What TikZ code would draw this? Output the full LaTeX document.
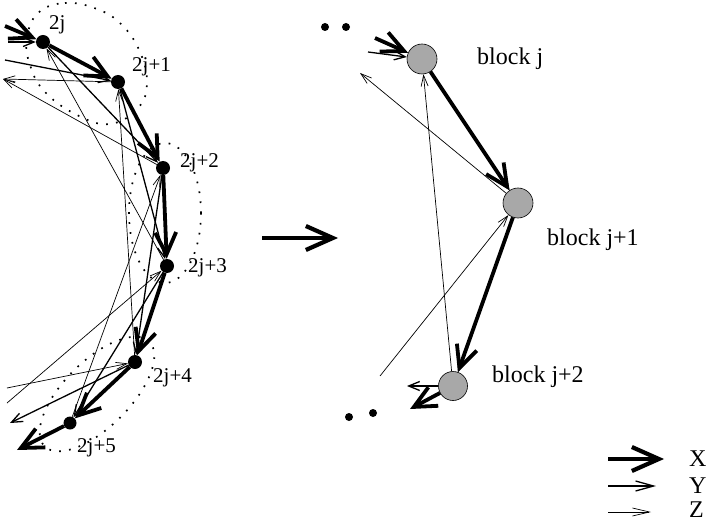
\documentclass[tikz,border=0pt]{standalone}
\usepackage{fontspec}
\setmainfont{Liberation Serif}
\usetikzlibrary{arrows.meta}
\begin{document}
\begin{tikzpicture}[x=1pt,y=-1pt,
  Xa/.style={line width=3.8pt,-{Straight Barb[length=22pt,width=21pt]}},
  Xl/.style={line width=4.2pt,-{Straight Barb[length=27pt,width=24pt]}},
  Ya/.style={line width=1.3pt,-{Straight Barb[length=11pt,width=9pt]}},
  Za/.style={line width=0.7pt,-{Straight Barb[length=11pt,width=7pt]}},
  bdot/.style={circle,fill=black,inner sep=0pt,minimum size=14pt},
  gnode/.style={circle,draw=black,line width=0.6pt,fill={rgb,255:red,168;green,168;blue,168},inner sep=0pt,minimum size=30pt},
  sdot/.style={circle,fill=black,inner sep=0pt,minimum size=8pt},
  lab/.style={font=\fontsize{21}{25}\selectfont,inner sep=0pt,anchor=base west},
  blab/.style={font=\fontsize{24}{28}\selectfont,inner sep=0pt,anchor=base west},
  grp/.style={line width=1.7pt,dash pattern=on 1.7pt off 8.3pt}]
\useasboundingbox (0,0) rectangle (708,521);

% ---- group outlines (dotted)
\draw[grp] plot[smooth cycle,tension=0.7] coordinates {(38,13) (65,3) (97,9) (122,25) (140,52) (147,83) (138,108) (110,124) (77,115) (45,92) (30,65) (27,38)};
\draw[grp] (165,213) ellipse [x radius=36pt, y radius=70pt];
\draw[grp,rotate around={45:(97,394)}] (97,394) ellipse [x radius=74pt, y radius=33pt];

% ---- left nodes
\node[bdot] (a0) at (43,42) {};
\node[bdot] (a1) at (118,82) {};
\node[bdot] (a2) at (163,168) {};
\node[bdot] (a3) at (167,266) {};
\node[bdot] (a4) at (135,362) {};
\node[bdot,minimum size=13pt] (a5) at (70,423) {};

\node[lab] (l0) at (49,30) {2j};
\node[lab] (l1) at (132,72) {2j+1};
\node[lab] (l2) at (180,168) {2j+2};
\node[lab] (l3) at (188,272) {2j+3};
\node[lab] (l4) at (153,382) {2j+4};
\node[lab] (l5) at (77,452) {2j+5};

% ---- left free ends
\coordinate (xin0) at (5,26);
\coordinate (yin0) at (8,42);
\coordinate (yin1) at (5,60);
\coordinate (zl) at (3,79);
\coordinate (zin3) at (7,403);
\coordinate (zin4) at (7,388);
\coordinate (yout4) at (10,423);
\coordinate (xout5) at (17,450);

% ---- left X arrows
\draw[Xa] (xin0) -- (a0);
\draw[Xa] (a0) -- (a1);
\draw[Xa] (a1) -- (a2);
\draw[Xa] (a2) -- (a3);
\draw[Xa] (a3) -- (a4);
\draw[Xa] (a4) -- (a5);
\draw[Xa] (a5) -- (xout5);
% ---- left Y arrows
\draw[Ya] (yin0) -- (a0);
\draw[Ya] (yin1) -- (a1);
\draw[Ya] (a0) -- (a2);
\draw[Ya] (a1) -- (a3);
\draw[Ya] (a2) -- (a4);
\draw[Ya] (a3) -- (a5);
\draw[Ya] (a4) -- (yout4);
% ---- left Z arrows
\draw[Za] (a1) -- (zl);
\draw[Za] (a2) -- (zl);
\draw[Za] (a3) -- (a0);
\draw[Za] (a4) -- (a1);
\draw[Za] (a5) -- (a2);
\draw[Za] (zin3) -- (a3);
\draw[Za] (zin4) -- (a4);

% ---- middle arrow
\coordinate (m0) at (262,238);
\coordinate (m1) at (338,238);
\draw[Xl] (m0) -- (m1);

% ---- right nodes
\node[gnode] (b0) at (422,59) {};
\node[gnode] (b1) at (518,203) {};
\node[gnode,minimum size=29pt] (b2) at (453,386) {};
\node[blab] (lb0) at (477,65) {block j};
\node[blab] (lb1) at (547,245) {block j+1};
\node[blab] (lb2) at (492,382) {block j+2};

\node[sdot] (d1) at (325,27) {};
\node[sdot] (d2) at (346,27) {};
\node[sdot] (d3) at (349,417) {};
\node[sdot] (d4) at (373,413) {};

\coordinate (rxin) at (375,38);
\coordinate (ryin) at (368,52);
\coordinate (rzout) at (360,73);
\coordinate (rzin) at (380,376);
\coordinate (ryout) at (407,386);
\coordinate (rxout) at (410,409);

\draw[Xa] (rxin) -- (b0);
\draw[Ya] (ryin) -- (b0);
\draw[Xa] (b0) -- (b1);
\draw[Ya] (b0) -- (b1);
\draw[Za] (b1) -- (rzout);
\draw[Za] (b2) -- (b0);
\draw[Za] (rzin) -- (b1);
\draw[Xa] (b1) -- (b2);
\draw[Ya] (b1) -- (b2);
\draw[Ya] (b2) -- (ryout);
\draw[Xa] (b2) -- (rxout);

% ---- legend
\coordinate (kx0) at (608,459); \coordinate (kx1) at (664,459);
\coordinate (ky0) at (608,486); \coordinate (ky1) at (656,486);
\coordinate (kz0) at (608,512); \coordinate (kz1) at (651,512);
\draw[Xl] (kx0) -- (kx1);
\draw[line width=1.3pt,-{Straight Barb[length=18pt,width=10pt]}] (ky0) -- (ky1);
\draw[line width=0.7pt,-{Straight Barb[length=17pt,width=8pt]}] (kz0) -- (kz1);
\node[blab] (lx) at (689,466) {X};
\node[blab] (ly) at (689,493) {Y};
\node[blab] (lz) at (689,517) {Z};
\end{tikzpicture}
\end{document}
